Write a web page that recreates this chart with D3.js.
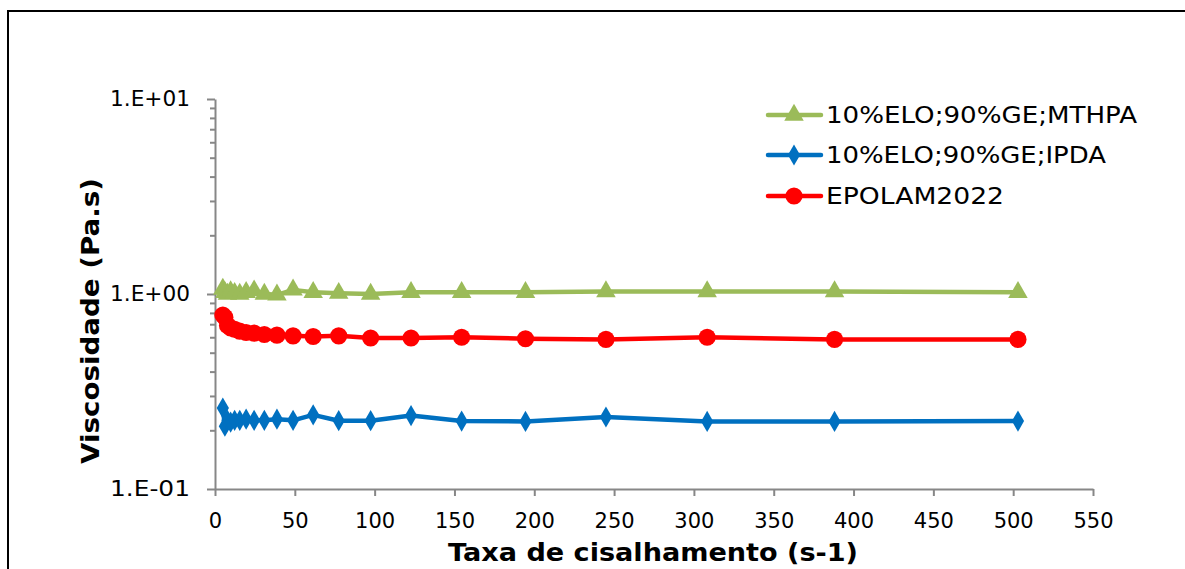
<!DOCTYPE html>
<html><head><meta charset="utf-8">
<script src="https://cdn.jsdelivr.net/npm/d3@7"></script>
<style>
body{margin:0;background:#fff;}
text{font-family:"DejaVu Sans",sans-serif;}
</style></head>
<body><svg id="c" width="1185" height="569"></svg>
<script>
const shearRate = [4.9, 6.2, 7.8, 9.8, 12.3, 15.5, 19.5, 24.5, 30.9, 38.8, 48.9, 61.5, 77.5, 97.5, 122.8, 154.5, 194.5, 244.9, 308.3, 388.1, 503];
const mthpa  = [1.06, 1.02, 1.00, 1.03, 1.01, 1.00, 1.02, 1.04, 1.00, 0.99, 1.05, 1.02, 1.01, 1.00, 1.02, 1.02, 1.02, 1.03, 1.03, 1.03, 1.02];
const ipda   = [0.26, 0.21, 0.225, 0.22, 0.225, 0.225, 0.228, 0.225, 0.225, 0.228, 0.225, 0.24, 0.224, 0.224, 0.238, 0.223, 0.222, 0.234, 0.222, 0.222, 0.223];
const epolam = [0.78, 0.76, 0.69, 0.67, 0.66, 0.645, 0.635, 0.63, 0.62, 0.615, 0.61, 0.605, 0.61, 0.595, 0.595, 0.60, 0.59, 0.585, 0.60, 0.585, 0.585];
const seriesNames = ["10%ELO;90%GE;MTHPA", "10%ELO;90%GE;IPDA", "EPOLAM2022"];
const xTicks = [0,50,100,150,200,250,300,350,400,450,500,550];
const yMajor = [0.1, 1, 10];
const yTickLabels = ["1.E-01", "1.E+00", "1.E+01"];

const svg = d3.select("#c");
svg.append("rect").attr("x",8).attr("y",11).attr("width",1300).attr("height",700)
  .attr("fill","none").attr("stroke","#000").attr("stroke-width",2);

const x = d3.scaleLinear().domain([0,550]).range([215,1093]);
const y = d3.scaleLog().domain([0.1,10]).range([489,99]);
const axisCol = "#878787";

const yMinor = [];
[0.1,1].forEach(d=>{for(let k=2;k<=9;k++) yMinor.push(d*k);});
const gMin = svg.append("g").attr("transform","translate(215,0)")
  .call(d3.axisLeft(y).tickValues(yMinor).tickSize(5).tickFormat(""));
gMin.select(".domain").remove();
gMin.selectAll("line").attr("stroke",axisCol).attr("stroke-width",2);

const gy = svg.append("g").attr("transform","translate(215,0)")
  .call(d3.axisLeft(y).tickValues(yMajor).tickSize(8).tickSizeOuter(0).tickPadding(17)
  .tickFormat((d,i)=>yTickLabels[i]));
gy.select(".domain").attr("stroke",axisCol).attr("stroke-width",2);
gy.selectAll("line").attr("stroke",axisCol).attr("stroke-width",2);
gy.selectAll("text").attr("font-size",21).attr("fill","#000").attr("textLength",80).attr("lengthAdjust","spacingAndGlyphs");

const gx = svg.append("g").attr("transform","translate(0,489)")
  .call(d3.axisBottom(x).tickValues(xTicks).tickSize(7).tickSizeOuter(0).tickPadding(17));
gx.select(".domain").attr("stroke",axisCol).attr("stroke-width",2);
gx.selectAll("line").attr("stroke",axisCol).attr("stroke-width",2);
gx.selectAll("text").attr("font-size",21).attr("fill","#000");

svg.append("text").attr("x",653).attr("y",561).attr("text-anchor","middle")
  .attr("font-size",24).attr("font-weight","bold").attr("textLength",410).attr("lengthAdjust","spacingAndGlyphs")
  .text("Taxa de cisalhamento (s-1)");
svg.append("text").attr("transform","translate(99,321) rotate(-90)").attr("text-anchor","middle")
  .attr("font-size",24).attr("font-weight","bold").attr("textLength",286).attr("lengthAdjust","spacingAndGlyphs")
  .text("Viscosidade (Pa.s)");

const series = [
  {name:seriesNames[0], vals:mthpa, color:"#9BBB59", sym:d3.symbolTriangle, size:165, tl:311},
  {name:seriesNames[1], vals:ipda, color:"#0070C0", sym:d3.symbolDiamond, size:130, tl:280},
  {name:seriesNames[2], vals:epolam, color:"#FF0000", sym:d3.symbolCircle, size:230, tl:178}
];
const drawOrder = [2,0,1];
const line = d3.line().x(d=>x(d[0])).y(d=>y(d[1]));
drawOrder.forEach(i=>{
  const s = series[i];
  const pts = shearRate.map((r,j)=>[r,s.vals[j]]);
  svg.append("path").attr("d",line(pts)).attr("fill","none").attr("stroke",s.color)
    .attr("stroke-width",4.5).attr("stroke-linejoin","round");
  svg.append("g").selectAll("path").data(pts).join("path")
    .attr("transform",d=>`translate(${x(d[0])},${y(d[1])})`)
    .attr("d",d3.symbol().type(s.sym).size(s.size)).attr("fill",s.color);
});

const legY = [115,155,196];
series.forEach((s,i)=>{
  const g = svg.append("g").attr("transform",`translate(0,${legY[i]})`);
  g.append("line").attr("x1",768).attr("x2",821).attr("stroke",s.color).attr("stroke-width",4.5).attr("stroke-linecap","round");
  g.append("path").attr("transform","translate(794,0)").attr("d",d3.symbol().type(s.sym).size(s.size)).attr("fill",s.color);
  g.append("text").attr("x",826).attr("y",0).attr("dy","0.36em").attr("font-size",23)
    .attr("textLength",s.tl).attr("lengthAdjust","spacingAndGlyphs").text(s.name);
});
</script></body></html>
